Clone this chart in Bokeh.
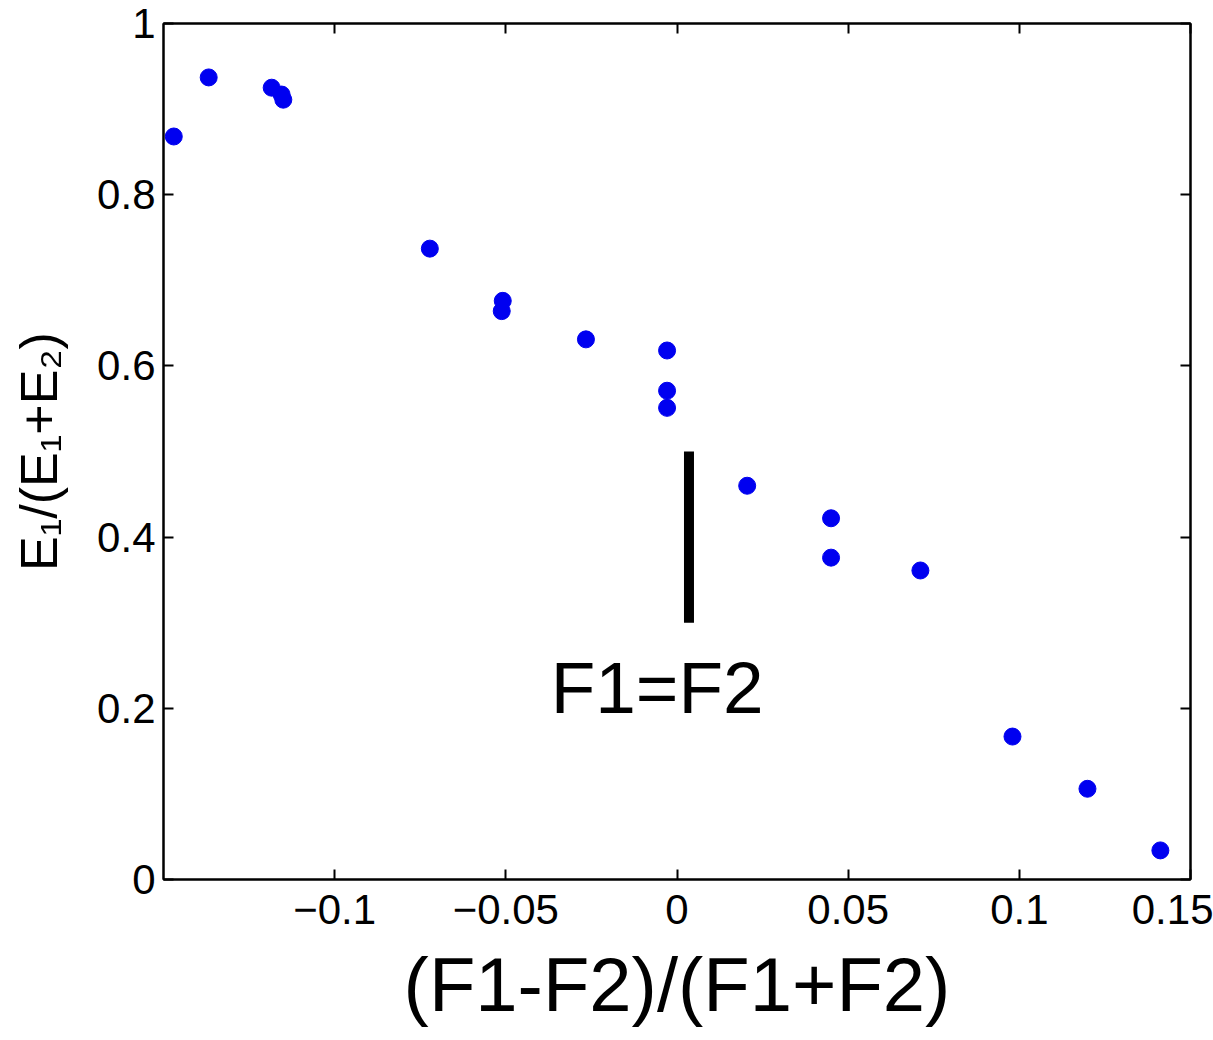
from bokeh.plotting import figure
from bokeh.models import Range1d, FixedTicker, LinearAxis
from bokeh.core.properties import value
from bokeh.embed import file_html
from bokeh.resources import INLINE

# ---- data ----
x_vals = [-0.1470, -0.1368, -0.1184, -0.1155, -0.1150, -0.0722, -0.0509, -0.0512,
          -0.0266, -0.0029, -0.0029, -0.0029, 0.0205, 0.0450, 0.0450, 0.0711,
          0.0980, 0.1199, 0.1412]
y_vals = [0.868, 0.937, 0.925, 0.917, 0.911, 0.737, 0.676, 0.664,
          0.631, 0.618, 0.571, 0.551, 0.460, 0.422, 0.376, 0.361,
          0.167, 0.106, 0.034]

x_ticks = [-0.1, -0.05, 0, 0.05, 0.1, 0.15]
x_tick_labels = ["\u22120.1", "\u22120.05", "0", "0.05", "0.1", "0.15"]
y_ticks = [0, 0.2, 0.4, 0.6, 0.8, 1]
y_tick_labels = ["0", "0.2", "0.4", "0.6", "0.8", "1"]

marker_x = [0.0035, 0.0035]
marker_y = [0.30, 0.50]
note_text = "F1=F2"
note_x = -0.0058
note_y = 0.224

x_label = "(F1-F2)/(F1+F2)"
y_label = "E\u2081/(E\u2081+E\u2082)"

FONT = "Liberation Sans"

p = figure(width=1213, height=1040, output_backend="svg", toolbar_location=None,
           x_range=Range1d(-0.15, 0.15), y_range=Range1d(0, 1),
           min_border_left=163, min_border_right=23, min_border_top=23,
           min_border_bottom=161)
p.background_fill_color = "white"
p.border_fill_color = "white"
p.grid.visible = False
p.outline_line_color = "black"
p.outline_line_width = 2

bottom = p.xaxis[0]
left = p.yaxis[0]

def style_axis(ax, ticks, labels, show_labels):
    ax.ticker = FixedTicker(ticks=ticks)
    ax.axis_line_color = "black"
    ax.axis_line_width = 2
    ax.major_tick_in = 10
    ax.major_tick_out = 0
    ax.minor_tick_in = 0
    ax.minor_tick_out = 0
    ax.major_tick_line_width = 2
    ax.major_tick_line_color = "black"
    if show_labels:
        ax.major_label_overrides = dict(zip(ticks, labels))
        ax.major_label_text_font = FONT
        ax.major_label_text_font_size = "42px"
        ax.major_label_text_color = "black"
    else:
        ax.major_label_overrides = {t: "" for t in ticks}
        ax.major_label_text_font_size = "1px"
        ax.major_label_standoff = 0

style_axis(bottom, x_ticks, x_tick_labels, True)
style_axis(left, y_ticks, y_tick_labels, True)
bottom.major_label_standoff = 15
left.major_label_standoff = 8

top = LinearAxis()
right = LinearAxis()
style_axis(top, x_ticks, x_tick_labels, False)
style_axis(right, y_ticks, y_tick_labels, False)
p.add_layout(top, "above")
p.add_layout(right, "right")

bottom.axis_label = x_label
bottom.axis_label_text_font = FONT
bottom.axis_label_text_font_size = "76px"
bottom.axis_label_text_font_style = "normal"
bottom.axis_label_text_color = "black"
bottom.axis_label_standoff = 15

left.axis_label = y_label
left.axis_label_text_font = FONT
left.axis_label_text_font_size = "52px"
left.axis_label_text_font_style = "normal"
left.axis_label_text_color = "black"
left.axis_label_standoff = 26

p.scatter(x_vals, y_vals, size=17, color="#0000f0", line_color="#0000f0")

p.line(marker_x, marker_y, line_width=10, line_color="black")
p.text(x=[note_x], y=[note_y], text=[note_text], text_font=value(FONT),
       text_font_size="73px", text_align="center", text_baseline="alphabetic",
       text_color="black")

open("out.html", "w").write(file_html(p, INLINE))
